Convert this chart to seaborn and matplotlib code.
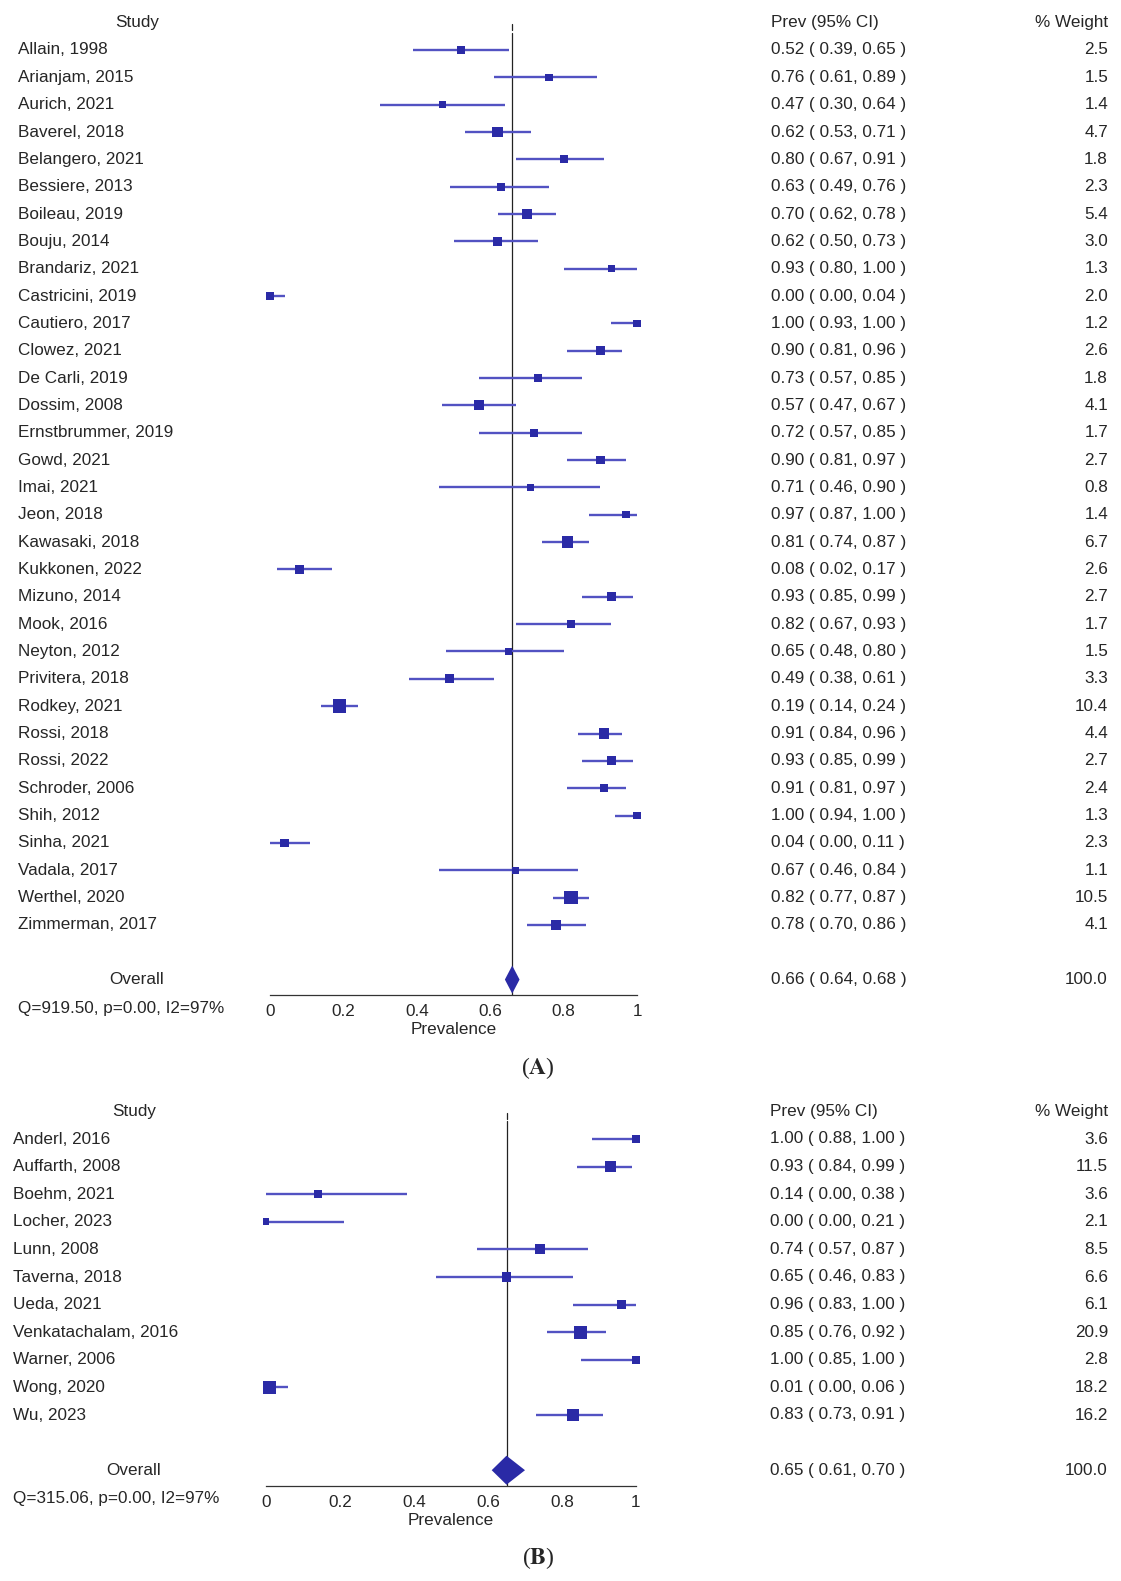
import numpy as np
import pandas as pd
import matplotlib
matplotlib.use("Agg")
import matplotlib.pyplot as plt
import matplotlib.transforms as mtransforms
import seaborn as sns

# Panel A data
studies_a = ["Allain, 1998", "Arianjam, 2015", "Aurich, 2021", "Baverel, 2018", "Belangero, 2021",
             "Bessiere, 2013", "Boileau, 2019", "Bouju, 2014", "Brandariz, 2021", "Castricini, 2019",
             "Cautiero, 2017", "Clowez, 2021", "De Carli, 2019", "Dossim, 2008", "Ernstbrummer, 2019",
             "Gowd, 2021", "Imai, 2021", "Jeon, 2018", "Kawasaki, 2018", "Kukkonen, 2022",
             "Mizuno, 2014", "Mook, 2016", "Neyton, 2012", "Privitera, 2018", "Rodkey, 2021",
             "Rossi, 2018", "Rossi, 2022", "Schroder, 2006", "Shih, 2012", "Sinha, 2021",
             "Vadala, 2017", "Werthel, 2020", "Zimmerman, 2017"]
prev_a = [0.52, 0.76, 0.47, 0.62, 0.80, 0.63, 0.70, 0.62, 0.93, 0.00, 1.00, 0.90, 0.73, 0.57, 0.72,
          0.90, 0.71, 0.97, 0.81, 0.08, 0.93, 0.82, 0.65, 0.49, 0.19, 0.91, 0.93, 0.91, 1.00, 0.04,
          0.67, 0.82, 0.78]
lo_a = [0.39, 0.61, 0.30, 0.53, 0.67, 0.49, 0.62, 0.50, 0.80, 0.00, 0.93, 0.81, 0.57, 0.47, 0.57,
        0.81, 0.46, 0.87, 0.74, 0.02, 0.85, 0.67, 0.48, 0.38, 0.14, 0.84, 0.85, 0.81, 0.94, 0.00,
        0.46, 0.77, 0.70]
hi_a = [0.65, 0.89, 0.64, 0.71, 0.91, 0.76, 0.78, 0.73, 1.00, 0.04, 1.00, 0.96, 0.85, 0.67, 0.85,
        0.97, 0.90, 1.00, 0.87, 0.17, 0.99, 0.93, 0.80, 0.61, 0.24, 0.96, 0.99, 0.97, 1.00, 0.11,
        0.84, 0.87, 0.86]
weight_a = [2.5, 1.5, 1.4, 4.7, 1.8, 2.3, 5.4, 3.0, 1.3, 2.0, 1.2, 2.6, 1.8, 4.1, 1.7, 2.7, 0.8, 1.4,
            6.7, 2.6, 2.7, 1.7, 1.5, 3.3, 10.4, 4.4, 2.7, 2.4, 1.3, 2.3, 1.1, 10.5, 4.1]
overall_a = (0.66, 0.64, 0.68)
stats_a = "Q=919.50, p=0.00, I2=97%"

# Panel B data
studies_b = ["Anderl, 2016", "Auffarth, 2008", "Boehm, 2021", "Locher, 2023", "Lunn, 2008",
             "Taverna, 2018", "Ueda, 2021", "Venkatachalam, 2016", "Warner, 2006", "Wong, 2020",
             "Wu, 2023"]
prev_b = [1.00, 0.93, 0.14, 0.00, 0.74, 0.65, 0.96, 0.85, 1.00, 0.01, 0.83]
lo_b = [0.88, 0.84, 0.00, 0.00, 0.57, 0.46, 0.83, 0.76, 0.85, 0.00, 0.73]
hi_b = [1.00, 0.99, 0.38, 0.21, 0.87, 0.83, 1.00, 0.92, 1.00, 0.06, 0.91]
weight_b = [3.6, 11.5, 3.6, 2.1, 8.5, 6.6, 6.1, 20.9, 2.8, 18.2, 16.2]
overall_b = (0.65, 0.61, 0.70)
stats_b = "Q=315.06, p=0.00, I2=97%"

ticks = [0, 0.2, 0.4, 0.6, 0.8, 1]
tick_labels = ["0", "0.2", "0.4", "0.6", "0.8", "1"]

sns.set_style("white")
plt.rcParams["font.family"] = ["Liberation Sans", "DejaVu Sans"]
plt.rcParams["mathtext.fontset"] = "stix"

W, H = 1121, 1581
fig = plt.figure(figsize=(W / 100, H / 100), dpi=100)

MARK = "#2A2AA6"
LINE = "#5252C2"
FS = 12.3


def fx(px):
    return px / W


def fy(py):
    return 1 - py / H


def draw_panel(studies, prev, lo, hi, weight, overall, stats, tag, lay):
    n = len(studies)
    ax = fig.add_axes([fx(lay["x0"]), fy(lay["axis"]), (lay["x1"] - lay["x0"]) / W,
                       (lay["axis"] - lay["top"]) / H])
    y_bot = 1 + (lay["axis"] - lay["row1"]) / lay["step"]
    y_top = 1 + (lay["top"] - lay["row1"]) / lay["step"]
    ax.set_xlim(0, 1)
    ax.set_ylim(y_bot, y_top)

    df = pd.DataFrame({"study": studies, "prev": prev, "lo": lo, "hi": hi, "weight": weight})
    df["row"] = np.arange(1, n + 1)
    side_px = 4 + 9.4 * np.sqrt(df["weight"] / df["weight"].max())
    df["area"] = (side_px * 0.72) ** 2

    # line at the pooled estimate
    ov, ov_lo, ov_hi = overall
    ax.plot([ov, ov], [0.05, 0.27], color="#222222", lw=0.9, zorder=1)
    ax.plot([ov, ov], [0.36, y_bot], color="#222222", lw=0.9, zorder=1)

    ax.hlines(df["row"], df["lo"], df["hi"], color=LINE, lw=1.7, zorder=2, clip_on=False)
    sns.scatterplot(data=df, x="prev", y="row", s=df["area"].values, marker="s", color=MARK,
                    linewidth=0, ax=ax, zorder=3, clip_on=False, legend=False)

    orow = n + 2
    h = lay["dh"] / lay["step"]
    ax.fill([ov_lo, ov, ov_hi, ov], [orow, orow - h, orow, orow + h], color=MARK, lw=0,
            zorder=3, clip_on=False)

    # axis styling
    for s in ["top", "left", "right"]:
        ax.spines[s].set_visible(False)
    ax.spines["bottom"].set_color("#333333")
    ax.spines["bottom"].set_linewidth(0.9)
    ax.spines["bottom"].set_bounds(0, 1)
    ax.set_xticks(ticks)
    ax.set_xticklabels(tick_labels, fontsize=FS)
    ax.set_yticks([])
    ax.tick_params(axis="x", direction="out", length=4.8, width=0.9, color="#333333", pad=1.5)
    ax.set_xlabel("Prevalence", fontsize=FS, labelpad=2.5)
    ax.set_ylabel("")

    tr = mtransforms.blended_transform_factory(fig.transFigure, ax.transData)
    ax.text(fx(lay["head_x"]), 0, "Study", transform=tr, ha="center", va="center", fontsize=FS)
    ax.text(fx(lay["ci_x"]), 0, "Prev (95% CI)", transform=tr, ha="left", va="center", fontsize=FS)
    ax.text(fx(lay["wt_x"]), 0, "% Weight", transform=tr, ha="right", va="center", fontsize=FS)
    for _, r in df.iterrows():
        ax.text(fx(lay["name_x"]), r["row"], r["study"], transform=tr, ha="left", va="center",
                fontsize=FS)
        ax.text(fx(lay["ci_x"]), r["row"], f"{r['prev']:.2f} ( {r['lo']:.2f}, {r['hi']:.2f} )",
                transform=tr, ha="left", va="center", fontsize=FS)
        ax.text(fx(lay["wt_x"]), r["row"], f"{r['weight']:.1f}", transform=tr, ha="right",
                va="center", fontsize=FS)
    ax.text(fx(lay["head_x"]), orow, "Overall", transform=tr, ha="center", va="center", fontsize=FS)
    ax.text(fx(lay["ci_x"]), orow, f"{ov:.2f} ( {ov_lo:.2f}, {ov_hi:.2f} )", transform=tr,
            ha="left", va="center", fontsize=FS)
    ax.text(fx(lay["wt_x"]), orow, "100.0", transform=tr, ha="right", va="center", fontsize=FS)

    fig.text(fx(lay["name_x"]), fy(lay["axis"] + 13), stats, ha="left", va="center", fontsize=FS)
    fig.text(fx(lay["tag_x"]), fy(lay["tag_y"]), "($\\mathbf{" + tag + "}$)", ha="center",
             va="center", fontsize=17, family=["Liberation Serif", "DejaVu Serif"])
    return ax


layout_a = dict(x0=270, x1=637, row1=50, step=27.34, axis=995, top=5, dh=14, name_x=18,
                head_x=137, ci_x=771, wt_x=1108, tag_x=538, tag_y=1068)
layout_b = dict(x0=266, x1=636, row1=1139, step=27.6, axis=1486, top=1092, dh=14.5, name_x=13,
                head_x=134, ci_x=770, wt_x=1108, tag_x=538, tag_y=1558)

draw_panel(studies_a, prev_a, lo_a, hi_a, weight_a, overall_a, stats_a, "A", layout_a)
draw_panel(studies_b, prev_b, lo_b, hi_b, weight_b, overall_b, stats_b, "B", layout_b)

fig.savefig("out.png", dpi=100, facecolor="white")
